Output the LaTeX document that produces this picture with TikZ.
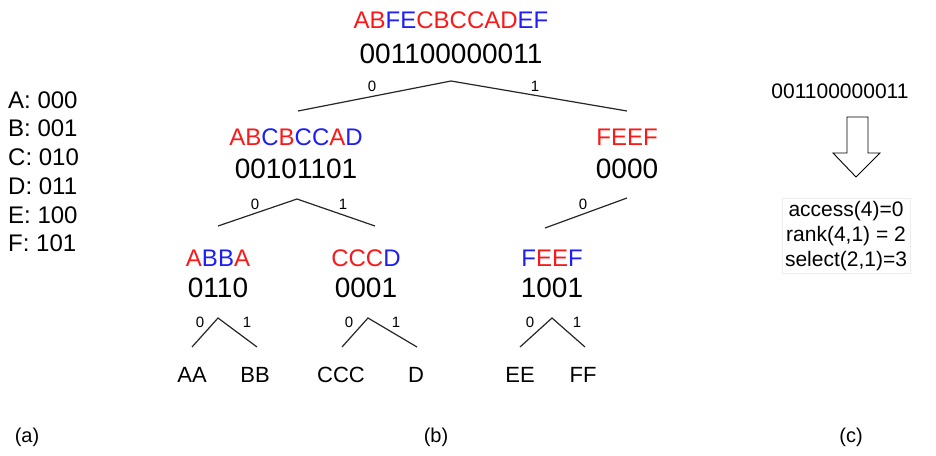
\documentclass[tikz,border=0pt]{standalone}
\usepackage{fontspec}
\setmainfont{Liberation Sans}
\definecolor{mred}{RGB}{250,25,25}
\definecolor{mblue}{RGB}{30,30,245}
\newcommand\rtx[1]{\textcolor{mred}{#1}}
\newcommand\btx[1]{\textcolor{mblue}{#1}}
\begin{document}
\begin{tikzpicture}[x=1pt,y=-1pt,
  txt/.style={inner sep=0pt, anchor=center},
  sym/.style={txt, font=\fontsize{24}{28}\selectfont},
  bits/.style={txt, font=\fontsize{28}{32}\selectfont},
  lbl/.style={txt, font=\fontsize{15}{17}\selectfont},
  leaf/.style={txt, font=\fontsize{22}{26}\selectfont},
  code/.style={inner sep=0pt, anchor=west, font=\fontsize{24}{28}\selectfont},
  side/.style={txt, font=\fontsize{21}{25}\selectfont},
  captxt/.style={txt, font=\fontsize{20}{24}\selectfont},
  edge/.style={draw=black!85, line width=1.2pt},
]
\path[use as bounding box, fill=white] (0,0) rectangle (936,455);

% (a) code table
\node[code] (cA) at (8,100) {A: 000};
\node[code] (cB) at (8,128) {B: 001};
\node[code] (cC) at (8,157) {C: 010};
\node[code] (cD) at (8,186) {D: 011};
\node[code] (cE) at (8,215) {E: 100};
\node[code] (cF) at (8,243) {F: 101};

% root
\node[sym] (rootS) at (451,20) {\rtx{AB}\btx{FE}\rtx{CBCCAD}\btx{EF}};
\node[bits] (rootB) at (451,54) {001100000011};
\coordinate (rootA) at (451,81);
\coordinate (rootL) at (298,111);
\coordinate (rootR) at (627,111);
\draw[edge] (rootL) -- (rootA) -- (rootR);
\node[lbl] (rootl0) at (372,86) {0};
\node[lbl] (rootl1) at (535,86) {1};

% level 2 left
\node[sym] (lS) at (296,137) {\rtx{AB}\btx{C}\rtx{B}\btx{CC}\rtx{A}\btx{D}};
\node[bits] (lB) at (296,169) {00101101};
\coordinate (lA) at (297,199);
\coordinate (lL) at (218,226);
\coordinate (lR) at (375,226);
\draw[edge] (lL) -- (lA) -- (lR);
\node[lbl] (ll0) at (255,204) {0};
\node[lbl] (ll1) at (343,204) {1};

% level 2 right
\node[sym] (rS) at (627,137) {\rtx{FEEF}};
\node[bits] (rB) at (627,169) {0000};
\coordinate (rA) at (627,198);
\coordinate (rL) at (545,228);
\draw[edge] (rL) -- (rA);
\node[lbl] (rl0) at (583,204) {0};

% level 3: ABBA
\node[sym] (aS) at (218,258) {\rtx{A}\btx{BB}\rtx{A}};
\node[bits] (aB) at (218,288) {0110};
\coordinate (aA) at (218,318);
\coordinate (aL) at (192,347);
\coordinate (aR) at (257,347);
\draw[edge] (aL) -- (aA) -- (aR);
\node[lbl] (al0) at (200,322) {0};
\node[lbl] (al1) at (247,322) {1};
\node[leaf] (AA) at (192,375) {AA};
\node[leaf] (BB) at (255,375) {BB};

% level 3: CCCD
\node[sym] (cS) at (366,258) {\rtx{CCC}\btx{D}};
\node[bits] (cB) at (366,288) {0001};
\node[lbl] (cl0) at (349,322) {0};
\node[lbl] (cl1) at (396,322) {1};
\coordinate (cA3) at (368,318);
\coordinate (cL) at (342,347);
\coordinate (cR) at (417,347);
\draw[edge] (cL) -- (cA3) -- (cR);
\node[leaf] (CCC) at (341,375) {CCC};
\node[leaf] (Dl) at (416,375) {D};

% level 3: FEEF
\node[sym] (fS) at (552,258) {\btx{F}\rtx{EE}\btx{F}};
\node[bits] (fB) at (552,288) {1001};
\coordinate (fA) at (552,318);
\coordinate (fL) at (520,347);
\coordinate (fR) at (585,347);
\draw[edge] (fL) -- (fA) -- (fR);
\node[lbl] (fl0) at (530,322) {0};
\node[lbl] (fl1) at (577,322) {1};
\node[leaf] (EE) at (520,375) {EE};
\node[leaf] (FF) at (583,375) {FF};

% (c)
\node[side] (cbits) at (840,91) {001100000011};
\draw[line width=0.9pt, line join=miter, fill=white]
  (847,117) -- (868,117) -- (868,153) -- (880,153) -- (856,177)
  -- (833,153) -- (847,153) -- cycle;
\node[draw=black!7, line width=0.8pt, fill=white, inner sep=3pt, align=center,
  font=\fontsize{21}{25}\selectfont] (ops) at (846,236)
  {access(4)=0\\rank(4,1) = 2\\select(2,1)=3};

% captions
\node[captxt] (capa) at (27,437) {(a)};
\node[captxt] (capb) at (436,437) {(b)};
\node[captxt] (capc) at (851,437) {(c)};
\end{tikzpicture}
\end{document}
